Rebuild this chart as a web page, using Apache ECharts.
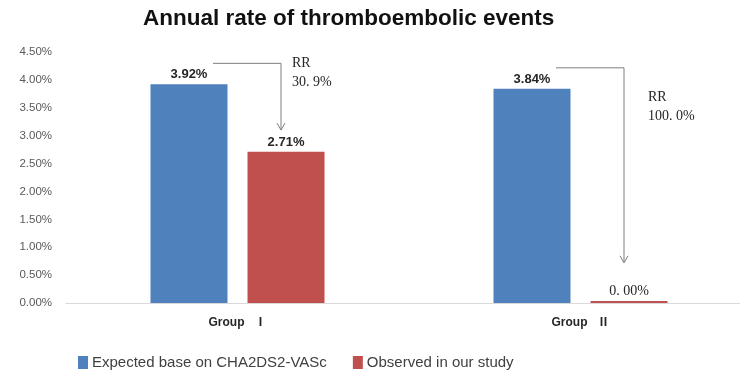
<!DOCTYPE html>
<html><head><meta charset="utf-8">
<script src="https://cdn.jsdelivr.net/npm/echarts@6/dist/echarts.min.js"></script>
<style>html,body{margin:0;padding:0;background:#fff}#c{width:740px;height:385px}</style>
</head><body><div id="c"></div>
<script>
const categories = ['Group Ⅰ', 'Group Ⅱ'];
const expectedRate = [3.92, 3.84];
const observedRate = [2.71, 0.00];
const seriesNames = ['Expected base on CHA2DS2-VASc', 'Observed in our study'];
const rrTexts = ['RR\n30. 9%', 'RR\n100. 0%'];
const arrowTipRate = [3.10, 0.72];
const yMin = 0, yMax = 4.5, yStep = 0.5;

const SANS = 'Liberation Sans, Noto Sans CJK SC, sans-serif';
const SERIF = 'Liberation Serif, DejaVu Serif, serif';

function fmtLabel(p) {
  if (p.value === 0) return '{z|0. 00%}';
  return p.value.toFixed(2) + '%';
}
const labelCfg = {
  show: true, position: 'top', distance: 3,
  formatter: fmtLabel, color: '#262626', fontFamily: SANS, fontWeight: 'bold', fontSize: 13,
  rich: { z: { fontFamily: SERIF, fontSize: 14, color: '#262626', fontWeight: 'normal' } }
};

const chart = echarts.init(document.getElementById('c'), null, {renderer: 'canvas'});
chart.setOption({
  animation: false,
  title: { text: 'Annual rate of thromboembolic events', left: 138, top: 3,
    textStyle: { fontFamily: SANS, fontSize: 22.5, fontWeight: 'bold', color: '#111' } },
  legend: { left: 73, top: 350, icon: 'rect', itemWidth: 10, itemHeight: 13, itemGap: 26,
    textStyle: { fontFamily: SANS, fontSize: 15, color: '#404040', padding: [0,0,0,-1] },
    data: seriesNames },
  grid: { left: 66, width: 686, top: 52, bottom: 82, containLabel: false, outerBoundsMode: 'none' },
  xAxis: { type: 'category', data: categories,
    axisLine: { lineStyle: { color: '#d9d9d9' } }, axisTick: { show: false },
    axisLabel: { margin: 14, fontFamily: SANS, fontWeight: 'bold', fontSize: 12, color: '#262626',
      formatter: v => v.replace(' ', '   ') } },
  yAxis: { type: 'value', min: yMin, max: yMax, interval: yStep,
    axisLine: { show: false }, axisTick: { show: false }, splitLine: { show: false },
    axisLabel: { margin: 14, formatter: v => v.toFixed(2) + '%', fontFamily: SANS, fontSize: 11.5, color: '#595959' } },
  series: [
    { name: seriesNames[0], type: 'bar', data: expectedRate, barWidth: 77, barGap: '26%',
      itemStyle: { color: '#4F81BD' }, label: labelCfg },
    { name: seriesNames[1], type: 'bar', data: observedRate, barWidth: 77, barMinHeight: 2,
      itemStyle: { color: '#C0504D' }, label: labelCfg }
  ]
});

// annotation arrows, positioned from data via the axes
const half = 48.5;
const rrDx = [11, 24];
const rrDy = [-10, 20];
const g = [];
categories.forEach((c, i) => {
  const cx = chart.convertToPixel({xAxisIndex: 0}, c);
  const blueTop = chart.convertToPixel({yAxisIndex: 0}, expectedRate[i]);
  const tipY = chart.convertToPixel({yAxisIndex: 0}, arrowTipRate[i]);
  const x0 = cx - half + 24, y0 = blueTop - 21;
  const x1 = cx + half - 5;
  g.push({ type: 'polyline', shape: { points: [[x0, y0], [x1, y0], [x1, tipY]] },
    style: { stroke: '#7f7f7f', lineWidth: 1, fill: null } });
  g.push({ type: 'polyline', shape: { points: [[x1 - 4, tipY - 7], [x1, tipY], [x1 + 4, tipY - 7]] },
    style: { stroke: '#7f7f7f', lineWidth: 1, fill: null } });
  g.push({ type: 'text', x: x1 + rrDx[i], y: y0 + rrDy[i],
    style: { text: rrTexts[i], font: '14px ' + SERIF, fill: '#262626', lineHeight: 19 } });
});
chart.setOption({ graphic: g });
</script></body></html>
